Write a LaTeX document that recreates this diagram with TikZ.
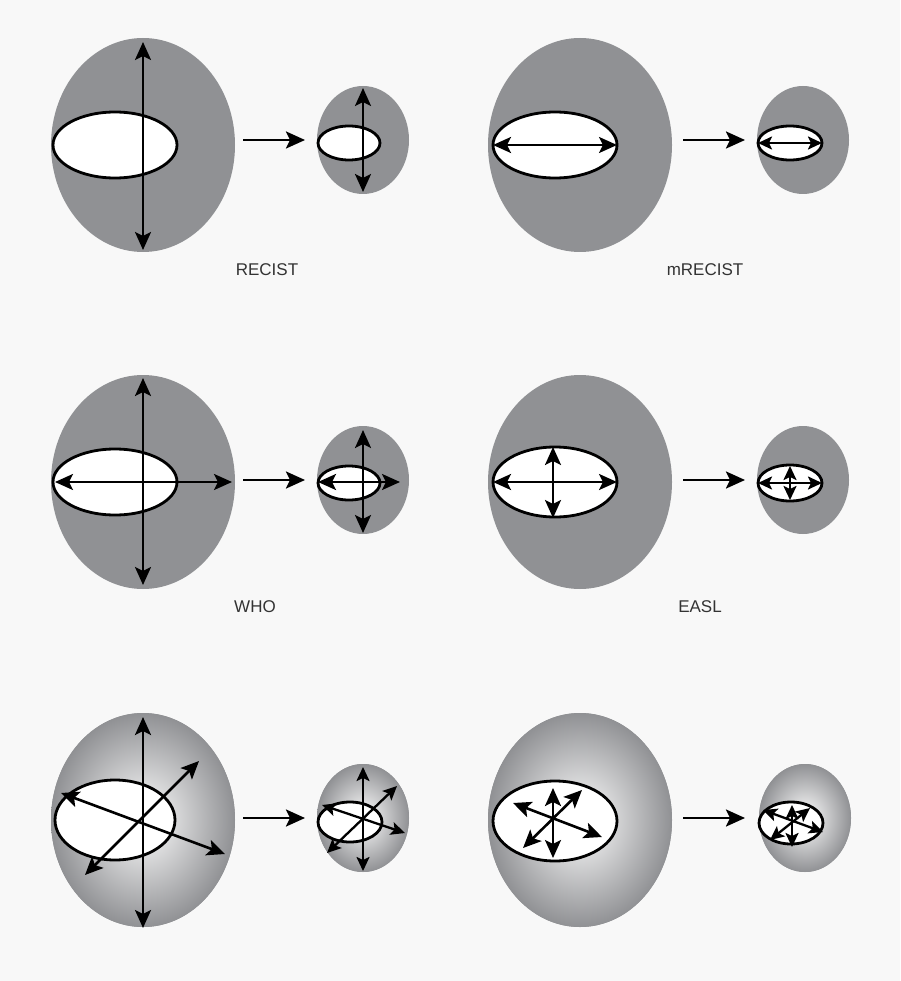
\documentclass[tikz,border=0pt]{standalone}
\usepackage{fontspec}
\setmainfont{Liberation Sans}
\usepackage{tikz}
\usetikzlibrary{positioning, arrows.meta, shapes.geometric}
\definecolor{tgray}{HTML}{909194}
\definecolor{bgpage}{HTML}{F8F8F8}
\definecolor{labelc}{HTML}{333333}

\begin{document}
\begin{tikzpicture}[x=1pt, y=-1pt,
  lesion/.style={ellipse, inner sep=0pt, outer sep=0pt, fill=tgray},
  big/.style={lesion, minimum width=184pt, minimum height=214pt},
  small/.style={lesion, minimum width=92pt, minimum height=108pt},
  core/.style={ellipse, inner sep=0pt, outer sep=0pt, draw=black, fill=white, line width=2.8pt},
  glow/.style={inner color=white, outer color=tgray},
  meas/.style={{Stealth[length=18pt,width=16pt,inset=4pt]}-{Stealth[length=18pt,width=16pt,inset=4pt]}, line width=2.6pt},
  tiny/.style={{Stealth[length=14pt,width=13pt,inset=3pt]}-{Stealth[length=14pt,width=13pt,inset=3pt]}, line width=2.3pt},
  follow/.style={-{Stealth[length=19pt,width=17pt,inset=4pt]}, line width=2.6pt},
  crit/.style={font=\fontsize{17}{19}\selectfont, text=labelc}]
\fill[bgpage] (0,0) rectangle (900,981);
\useasboundingbox (0,0) rectangle (900,981);

% RECIST: longest diameter
\begin{scope}
\node[big] (recA) at (143,145) {};
\node[core, minimum width=124pt, minimum height=66pt] (recAc) at (115,145) {};
\node[small] (recB) at (363,140) {};
\node[core, minimum width=62pt, minimum height=34pt] (recBc) at (349,143) {};
\draw[meas] (143,42) -- (143,250);
\draw[meas] (363,88) -- (363,192);
\draw[follow] (243,140) -- (305,140);
\node[crit] (recL) at (267,270) {RECIST};
\end{scope}

% mRECIST: viable tumour diameter
\begin{scope}
\node[big] (mrecA) at (580,145) {};
\node[core, minimum width=124pt, minimum height=66pt] (mrecAc) at (555,145) {};
\node[small] (mrecB) at (803,140) {};
\node[core, minimum width=64pt, minimum height=34pt] (mrecBc) at (790,143) {};
\draw[meas] (mrecAc.west) -- (mrecAc.east);
\draw[tiny] (mrecBc.west) -- (mrecBc.east);
\draw[follow] (683,140) -- (745,140);
\node[crit] (mrecL) at (705,270) {mRECIST};
\end{scope}

% WHO: bidimensional
\begin{scope}
\node[big] (whoA) at (143,482) {};
\node[core, minimum width=124pt, minimum height=66pt] (whoAc) at (115,482) {};
\node[small] (whoB) at (363,480) {};
\node[core, minimum width=62pt, minimum height=34pt] (whoBc) at (349,483) {};
\draw[meas] (143,378) -- (143,585);
\draw[meas] (55,482) -- (232,482);
\draw[meas] (363,430) -- (363,533);
\draw[meas] (318,482) -- (400,482);
\draw[follow] (243,480) -- (305,480);
\node[crit] (whoL) at (255,607) {WHO};
\end{scope}

% EASL: bidimensional viable tumour
\begin{scope}
\node[big] (easlA) at (580,482) {};
\node[core, minimum width=124pt, minimum height=70pt] (easlAc) at (555,482) {};
\node[small] (easlB) at (803,480) {};
\node[core, minimum width=64pt, minimum height=36pt] (easlBc) at (790,483) {};
\draw[meas] (553,447) -- (553,518);
\draw[meas] (easlAc.west) -- (easlAc.east);
\draw[tiny] (790,466) -- (790,500);
\draw[tiny] (easlBc.west) -- (easlBc.east);
\draw[follow] (683,480) -- (745,480);
\node[crit] (easlL) at (700,607) {EASL};
\end{scope}

% volumetric
\begin{scope}
\node[big, glow] (volA) at (143,820) {};
\node[core, minimum width=120pt, minimum height=80pt] (volAc) at (115,820) {};
\node[small, glow] (volB) at (363,818) {};
\node[core, minimum width=64pt, minimum height=40pt] (volBc) at (350,822) {};
\draw[meas] (143,717) -- (143,928);
\draw[meas] (85,875) -- (199,761);
\draw[meas] (61,793) -- (225,854);
\draw[tiny] (363,767) -- (363,871);
\draw[tiny] (327,853) -- (397,786);
\draw[tiny] (322,805) -- (405,833);
\draw[follow] (243,818) -- (305,818);
\end{scope}

% volumetric viable tumour
\begin{scope}
\node[big, glow] (vvA) at (580,820) {};
\node[core, minimum width=124pt, minimum height=80pt] (vvAc) at (555,821) {};
\node[small, glow] (vvB) at (805,818) {};
\node[core, minimum width=64pt, minimum height=42pt] (vvBc) at (791,823) {};
\draw[meas] (553,788) -- (553,858);
\draw[meas] (523,848) -- (582,790);
\draw[meas] (513,803) -- (602,837);
\draw[tiny] (792,805) -- (792,847);
\draw[tiny] (770,840) -- (810,808);
\draw[tiny] (763,810) -- (823,832);
\draw[follow] (683,818) -- (745,818);
\end{scope}
\end{tikzpicture}
\end{document}
